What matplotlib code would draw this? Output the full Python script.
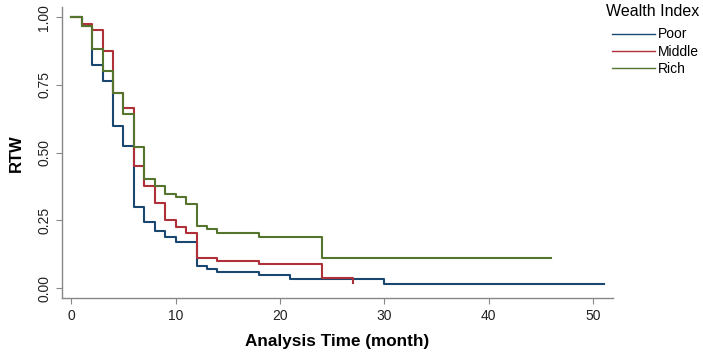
import matplotlib
matplotlib.use("Agg")
import matplotlib.pyplot as plt

plt.rcParams['font.family'] = ['Liberation Sans', 'DejaVu Sans']

# Kaplan-Meier style step curves
poor_t = [0, 1, 2, 3, 4, 5, 6, 7, 8, 9, 10, 12, 13, 14, 18, 21, 30, 51]
poor_s = [1.0, 0.966, 0.822, 0.765, 0.60, 0.524, 0.30, 0.245, 0.211, 0.189, 0.170,
          0.081, 0.069, 0.058, 0.047, 0.032, 0.017, 0.017]

middle_t = [0, 1, 2, 3, 4, 5, 6, 7, 8, 9, 10, 11, 12, 14, 18, 24, 27]
middle_s = [1.0, 0.974, 0.951, 0.876, 0.72, 0.665, 0.451, 0.376, 0.316, 0.251, 0.224,
            0.202, 0.112, 0.10, 0.09, 0.038, 0.02]

rich_t = [0, 1, 2, 3, 4, 5, 6, 7, 8, 9, 10, 11, 12, 13, 14, 18, 24, 46]
rich_s = [1.0, 0.966, 0.881, 0.80, 0.72, 0.641, 0.521, 0.401, 0.376, 0.349, 0.335,
          0.31, 0.229, 0.217, 0.203, 0.189, 0.113, 0.113]

labels = ["Poor", "Middle", "Rich"]
colors = ["#1a476f", "#b0303a", "#55752f"]
xticks = [0, 10, 20, 30, 40, 50]
yticks = [0.0, 0.25, 0.5, 0.75, 1.0]

fig = plt.figure(figsize=(7.03, 3.55), dpi=100)
ax = fig.add_axes([0.088, 0.16, 0.784, 0.82])

for t, s, lab, c in zip([poor_t, middle_t, rich_t], [poor_s, middle_s, rich_s], labels, colors):
    ax.step(t, s, where='post', color=c, lw=1.5, label=lab)

ax.set_xlim(-0.9, 51.9)
ax.set_ylim(-0.037, 1.037)
ax.set_xticks(xticks)
ax.set_yticks(yticks)
ax.set_yticklabels(["%.2f" % v for v in yticks], rotation=90, va='center')
ax.tick_params(direction='out', length=4, color='#888888', labelsize=10, labelcolor='#222222')

for side in ['top', 'right']:
    ax.spines[side].set_visible(False)
for side in ['left', 'bottom']:
    ax.spines[side].set_color('#888888')
    ax.spines[side].set_linewidth(1.0)

ax.set_xlabel("Analysis Time (month)", fontsize=12.3, fontweight='bold', labelpad=8)
ax.set_ylabel("RTW", fontsize=12, fontweight='bold', labelpad=10)

handles, labs = ax.get_legend_handles_labels()
leg = fig.legend(handles, labs, title="Wealth Index", loc='upper right',
                 bbox_to_anchor=(1.0, 1.0), frameon=False, fontsize=10,
                 handlelength=3.1, handletextpad=0.2, labelspacing=0.22,
                 borderpad=0.2, borderaxespad=0.1)
leg.get_title().set_fontsize(11.5)
leg._legend_box.align = "right"
leg._legend_box.sep = 6
for line in leg.get_lines():
    line.set_linewidth(1.0)

fig.savefig("out.png", dpi=100)
